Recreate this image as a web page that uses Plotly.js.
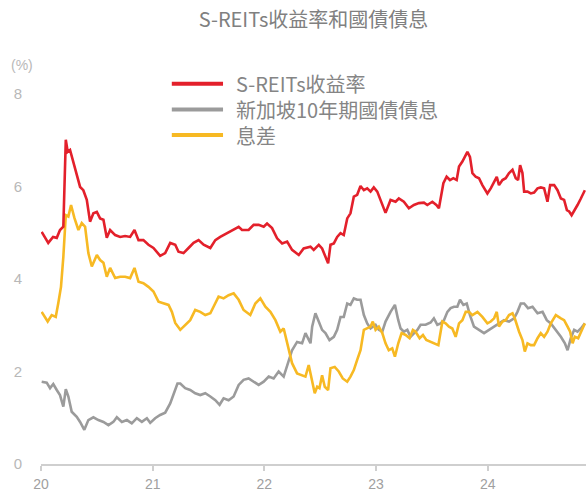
<!DOCTYPE html>
<html>
<head>
<meta charset="utf-8">
<script src="https://cdn.plot.ly/plotly-3.0.1.min.js"></script>
<style>html,body{margin:0;padding:0;background:#fff;}#chart{width:586px;height:495px;}</style>
</head>
<body>
<div id="chart"></div>
<script>
const chartTitle = "S-REITs收益率和國債債息";
const seriesNames = ["S-REITs收益率", "新加坡10年期國債債息", "息差"];
const seriesColors = ["#e3202b", "#9b9b9b", "#f7b923"];
const xTickVals = [2020, 2021, 2022, 2023, 2024];
const xTickText = ["20", "21", "22", "23", "24"];
const yTickVals = [0, 2, 4, 6, 8];

const reitX = [2020.006,2020.065,2020.108,2020.141,2020.170,2020.200,2020.222,2020.239,2020.260,2020.290,2020.320,2020.350,2020.379,2020.410,2020.439,2020.469,2020.500,2020.529,2020.559,2020.589,2020.619,2020.664,2020.709,2020.753,2020.798,2020.837,2020.873,2020.917,2020.962,2021.007,2021.067,2021.112,2021.157,2021.202,2021.231,2021.276,2021.321,2021.366,2021.411,2021.456,2021.516,2021.561,2021.605,2021.665,2021.725,2021.770,2021.800,2021.859,2021.904,2021.949,2021.994,2022.024,2022.069,2022.114,2022.159,2022.204,2022.248,2022.308,2022.352,2022.413,2022.442,2022.487,2022.517,2022.541,2022.571,2022.592,2022.622,2022.652,2022.682,2022.711,2022.742,2022.771,2022.801,2022.831,2022.861,2022.891,2022.921,2022.951,2022.980,2023.011,2023.040,2023.085,2023.130,2023.175,2023.204,2023.249,2023.294,2023.339,2023.384,2023.429,2023.459,2023.504,2023.540,2023.563,2023.603,2023.632,2023.662,2023.692,2023.722,2023.743,2023.773,2023.794,2023.818,2023.841,2023.863,2023.892,2023.922,2023.952,2023.997,2024.027,2024.057,2024.081,2024.101,2024.132,2024.161,2024.191,2024.222,2024.251,2024.272,2024.290,2024.311,2024.326,2024.356,2024.386,2024.415,2024.446,2024.475,2024.505,2024.535,2024.559,2024.595,2024.625,2024.655,2024.684,2024.709,2024.729,2024.751,2024.774,2024.804,2024.834,2024.870];
const reitY = [5.02,4.78,4.91,4.89,5.06,5.13,7.01,6.75,6.79,6.51,6.29,5.99,5.92,5.71,5.24,5.42,5.45,5.31,5.28,4.89,5.06,4.95,4.91,4.93,4.91,5.06,4.84,4.84,4.74,4.67,4.50,4.56,4.78,4.74,4.59,4.56,4.67,4.78,4.84,4.74,4.67,4.84,4.91,4.99,5.06,5.13,5.06,5.06,5.17,5.17,5.13,5.20,5.10,4.88,4.77,4.81,4.63,4.52,4.66,4.70,4.63,4.74,4.66,4.52,4.34,4.74,4.77,4.91,4.99,4.95,5.31,5.42,5.78,5.82,6.01,5.92,5.96,5.89,5.98,5.89,5.71,5.43,5.71,5.67,5.74,5.67,5.53,5.60,5.64,5.65,5.60,5.67,5.60,5.53,6.07,6.21,6.14,6.18,6.14,6.43,6.54,6.64,6.75,6.64,6.29,6.21,6.18,6.03,5.85,5.96,6.10,6.21,6.03,6.14,6.18,6.29,6.36,6.18,6.14,6.46,6.29,5.89,5.89,5.85,5.87,5.96,5.98,5.96,5.67,6.03,6.03,5.92,5.74,5.71,5.49,5.46,5.38,5.49,5.60,5.74,5.92];

const bondX = [2020.006,2020.051,2020.081,2020.110,2020.141,2020.170,2020.200,2020.222,2020.245,2020.275,2020.320,2020.350,2020.388,2020.424,2020.469,2020.514,2020.559,2020.604,2020.648,2020.679,2020.724,2020.769,2020.813,2020.858,2020.903,2020.948,2020.978,2021.022,2021.067,2021.112,2021.157,2021.183,2021.222,2021.247,2021.291,2021.336,2021.381,2021.426,2021.471,2021.516,2021.561,2021.599,2021.635,2021.680,2021.725,2021.770,2021.814,2021.859,2021.904,2021.949,2021.994,2022.039,2022.083,2022.128,2022.173,2022.209,2022.248,2022.293,2022.338,2022.368,2022.413,2022.428,2022.457,2022.487,2022.517,2022.547,2022.583,2022.622,2022.652,2022.682,2022.711,2022.742,2022.771,2022.801,2022.831,2022.861,2022.891,2022.921,2022.951,2022.996,2023.025,2023.056,2023.085,2023.130,2023.169,2023.199,2023.220,2023.249,2023.280,2023.309,2023.339,2023.370,2023.399,2023.444,2023.489,2023.518,2023.549,2023.578,2023.608,2023.639,2023.668,2023.698,2023.728,2023.752,2023.782,2023.812,2023.841,2023.877,2023.922,2023.967,2024.012,2024.057,2024.101,2024.146,2024.191,2024.236,2024.266,2024.296,2024.326,2024.361,2024.401,2024.446,2024.491,2024.529,2024.565,2024.610,2024.655,2024.691,2024.715,2024.744,2024.774,2024.804,2024.834,2024.870];
const bondY = [1.78,1.76,1.64,1.73,1.60,1.49,1.24,1.62,1.46,1.13,1.02,0.91,0.74,0.95,1.01,0.95,0.91,0.84,0.91,1.01,0.91,0.95,0.88,0.99,0.91,0.99,0.89,0.99,1.06,1.11,1.31,1.50,1.74,1.74,1.64,1.60,1.53,1.49,1.53,1.46,1.38,1.28,1.42,1.38,1.46,1.71,1.82,1.85,1.78,1.71,1.78,1.89,1.85,2.00,1.89,2.18,2.46,2.64,2.61,2.83,2.61,2.97,3.26,3.08,2.90,2.83,2.68,2.75,2.90,3.18,3.18,3.47,3.44,3.58,3.55,3.55,3.22,3.04,2.93,3.01,2.90,2.86,3.08,3.29,3.44,3.11,2.93,2.86,2.90,2.75,2.83,2.90,3.01,3.01,3.06,3.15,3.01,3.04,3.11,3.29,3.37,3.40,3.40,3.55,3.44,3.47,3.22,2.97,2.90,2.83,2.90,2.97,3.04,3.11,3.08,3.15,3.29,3.47,3.47,3.37,3.40,3.26,3.29,3.11,3.04,2.90,2.75,2.61,2.46,2.72,2.90,2.86,2.93,3.04];

const spreadX = [2020.006,2020.060,2020.096,2020.132,2020.155,2020.179,2020.200,2020.222,2020.245,2020.269,2020.299,2020.335,2020.365,2020.395,2020.424,2020.455,2020.500,2020.529,2020.559,2020.589,2020.619,2020.664,2020.709,2020.753,2020.798,2020.837,2020.873,2020.917,2020.962,2021.007,2021.052,2021.097,2021.142,2021.172,2021.202,2021.247,2021.291,2021.336,2021.381,2021.426,2021.471,2021.516,2021.545,2021.590,2021.635,2021.680,2021.725,2021.770,2021.814,2021.874,2021.919,2021.964,2022.009,2022.054,2022.099,2022.143,2022.173,2022.209,2022.248,2022.293,2022.338,2022.368,2022.397,2022.428,2022.451,2022.473,2022.493,2022.517,2022.541,2022.571,2022.592,2022.630,2022.666,2022.702,2022.742,2022.771,2022.801,2022.831,2022.861,2022.891,2022.921,2022.951,2022.971,2022.996,2023.025,2023.056,2023.085,2023.114,2023.145,2023.169,2023.199,2023.229,2023.265,2023.300,2023.330,2023.354,2023.390,2023.420,2023.450,2023.489,2023.527,2023.558,2023.594,2023.623,2023.653,2023.683,2023.713,2023.743,2023.773,2023.803,2023.832,2023.863,2023.908,2023.952,2023.997,2024.027,2024.057,2024.081,2024.101,2024.132,2024.161,2024.191,2024.222,2024.242,2024.281,2024.311,2024.332,2024.356,2024.386,2024.415,2024.446,2024.475,2024.505,2024.535,2024.565,2024.610,2024.655,2024.684,2024.715,2024.738,2024.760,2024.780,2024.810,2024.841,2024.870];
const spreadY = [3.29,3.08,3.22,3.18,3.48,3.83,4.48,5.38,5.35,5.60,5.32,5.06,5.21,5.13,4.56,4.27,4.52,4.41,4.35,4.05,4.24,4.02,4.05,4.05,4.02,4.24,3.94,3.91,3.83,3.73,3.51,3.48,3.44,3.29,3.05,2.90,3.01,3.11,3.33,3.29,3.22,3.26,3.40,3.62,3.58,3.65,3.69,3.55,3.33,3.22,3.47,3.58,3.40,3.29,3.11,2.86,2.93,2.54,2.18,1.96,1.92,1.89,2.14,1.74,1.53,1.67,1.64,1.92,1.67,1.60,2.07,2.10,2.00,1.85,1.78,1.89,2.03,2.25,2.46,2.90,2.93,2.97,3.08,2.90,2.97,2.83,2.61,2.46,2.50,2.32,2.61,2.83,2.79,2.72,2.90,2.86,2.72,2.79,2.68,2.64,2.61,2.57,3.08,3.04,2.97,2.93,2.75,3.04,3.11,3.29,3.29,3.22,3.29,3.18,3.04,3.08,3.15,3.29,2.97,3.08,3.11,3.22,3.26,3.15,2.86,2.68,2.43,2.61,2.57,2.57,2.72,2.83,2.75,2.86,3.04,3.22,3.15,3.11,2.97,2.86,2.61,2.75,2.72,2.90,3.04];

const seriesX = [reitX, bondX, spreadX];
const seriesY = [reitY, bondY, spreadY];

const traces = seriesNames.map((name, i) => ({
  type: "scatter",
  mode: "lines",
  name: name,
  x: seriesX[i],
  y: seriesY[i],
  line: {color: seriesColors[i], width: 2.6, shape: "linear"},
  hoverinfo: "skip",
  showlegend: false
}));
// draw order: grey, yellow, red on top
const ordered = [traces[1], traces[2], traces[0]];

// custom legend geometry (paper coordinates)
const legendRowsY = [1.028, 0.958, 0.889];
const shapes = seriesNames.map((n, i) => ({
  type: "line", xref: "paper", yref: "paper",
  x0: 0.240, x1: 0.334, y0: legendRowsY[i], y1: legendRowsY[i],
  line: {color: seriesColors[i], width: 4}
}));
const annotations = seriesNames.map((n, i) => ({
  xref: "paper", yref: "paper", x: 0.354, y: legendRowsY[i],
  xanchor: "left", yanchor: "middle", showarrow: false, text: n,
  font: {family: "Noto Sans CJK TC, Noto Sans, sans-serif", size: 20, color: "#858585"}
}));
annotations.push({
  xref: "paper", yref: "paper", x: -0.035, y: 1.078, xanchor: "center", yanchor: "middle",
  showarrow: false, text: "(%)",
  font: {family: "Liberation Sans, Arial, sans-serif", size: 14, color: "#b8b8b8"}
});

const layout = {
  width: 586, height: 495,
  margin: {l: 41, r: 0, t: 94, b: 31, pad: 0},
  paper_bgcolor: "#ffffff", plot_bgcolor: "#ffffff",
  title: {
    text: chartTitle, x: 0.5, xref: "paper", xanchor: "center",
    y: 1 - 20 / 495, yref: "container", yanchor: "middle",
    font: {family: "Noto Sans CJK TC, Noto Sans, sans-serif", size: 20, color: "#808080"}
  },
  xaxis: {
    range: [2020, 2024.88], tickvals: xTickVals, ticktext: xTickText,
    showgrid: false, zeroline: false, showline: true, linecolor: "#cfcfcf", linewidth: 2,
    ticks: "outside", ticklen: 5, tickwidth: 2, tickcolor: "#cfcfcf",
    ticklabelstandoff: 1,
    tickfont: {family: "Liberation Sans, Arial, sans-serif", size: 14, color: "#a0a0a0"},
    fixedrange: true
  },
  yaxis: {
    range: [0, 8], tickvals: yTickVals, ticktext: yTickVals.map(String),
    showgrid: false, zeroline: false, showline: false, ticks: "",
    ticklabelstandoff: 18,
    tickfont: {family: "Liberation Sans, Arial, sans-serif", size: 15, color: "#b8b8b8"},
    fixedrange: true
  },
  shapes: shapes,
  annotations: annotations,
  showlegend: false
};

Plotly.newPlot("chart", ordered, layout, {displayModeBar: false, staticPlot: true});
</script>
</body>
</html>
